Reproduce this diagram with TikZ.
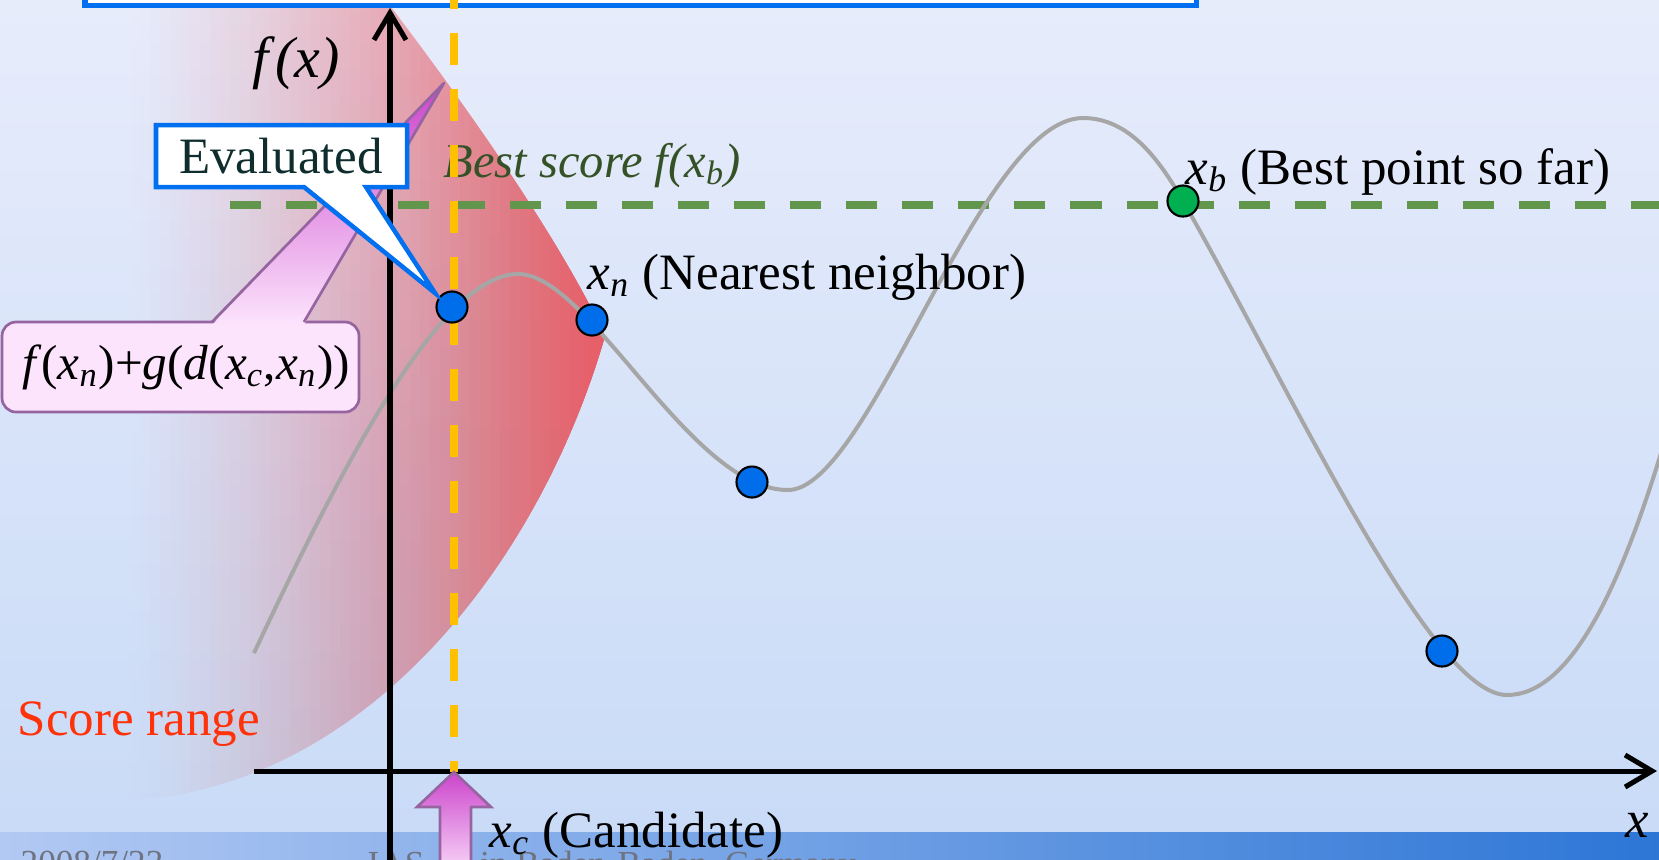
\documentclass[tikz,border=0pt]{standalone}
\usepackage{fontspec}
\setmainfont{Liberation Serif}
\usetikzlibrary{arrows.meta}

\definecolor{bgtop}{RGB}{231,236,251}
\definecolor{bgbottom}{RGB}{201,219,247}
\definecolor{footleft}{RGB}{178,201,243}
\definecolor{footright}{RGB}{45,118,214}
\definecolor{scorered}{RGB}{233,92,102}
\definecolor{boxblue}{RGB}{0,112,240}
\definecolor{dotblue}{RGB}{0,110,235}
\definecolor{dotgreen}{RGB}{0,176,80}
\definecolor{bestgreen}{RGB}{98,150,76}
\definecolor{besttext}{RGB}{52,82,38}
\definecolor{candyellow}{RGB}{255,192,0}
\definecolor{curvegray}{RGB}{166,166,166}
\definecolor{pinklight}{RGB}{252,228,252}
\definecolor{pinkdark}{RGB}{204,68,204}
\definecolor{pinkline}{RGB}{150,100,160}
\definecolor{rangered}{RGB}{255,50,10}
\definecolor{evaltext}{RGB}{15,45,45}
\definecolor{foottext}{RGB}{110,115,130}

\newcommand{\vx}[1]{\textit{x}\textsubscript{\textit{#1}}}

\tikzset{
  lbl/.style={font=\fontsize{14.5}{17}\selectfont, inner sep=0pt},
  sample/.style={circle, draw=black, line width=0.6pt, minimum size=0.31cm, inner sep=0pt},
  axisline/.style={line width=0.05cm, -{Straight Barb[length=0.27cm,width=0.32cm]}},
  footlbl/.style={anchor=north west, inner sep=0pt, text=foottext, font=\fontsize{10}{12}\selectfont},
}

\begin{document}
\begin{tikzpicture}[x=0.01cm,y=-0.01cm]
\useasboundingbox (0,0) rectangle (1659,859);
\clip (0,0) rectangle (1659,859);

% slide background
\shade[top color=bgtop, bottom color=bgbottom] (0,0) rectangle (1659,832);
\shade[left color=footleft, right color=footright] (0,832) rectangle (1659,859);
\node[footlbl] (date) at (20,850) {2008/7/23};
\node[footlbl] (venue) at (367,850) {IAS-10 in Baden-Baden, Germany};

% score range, fading to the left
\begin{scope}
\clip (100,-10) -- (378,-10)
  .. controls (470,110) and (560,240) .. (605,336)
  .. controls (540,560) and (380,760) .. (175,795)
  .. controls (150,799) and (125,800) .. (100,800) -- cycle;
\foreach \xa in {130,140,...,600} {
  \pgfmathsetmacro\acur{min(0.97,((\xa-120)/480)^1.5)}
  \pgfmathsetmacro\aprev{min(0.97,(max(\xa-130,0.01)/480)^1.5)}
  \pgfmathsetmacro\op{1-(1-\acur)/(1-\aprev)}
  \fill[scorered, opacity=\op] (\xa,-20) rectangle (640,820);
}
\end{scope}

\draw[boxblue, line width=0.05cm, fill=white] (85,-60) rectangle (1196,5.5);

% best score
\draw[bestgreen, line width=0.08cm, dash pattern=on 0.31cm off 0.25cm] (230,205) -- (1659,205);
\node[lbl, anchor=base west, text=besttext, font=\fontsize{13.8}{16}\selectfont\itshape] (bestscore) at (443,177) {Best score f(\vx{b})};

% function
\draw[curvegray, line width=0.04cm] (254,653) .. controls (340,470) and (440,274) .. (518,274)
  .. controls (590,274) and (690,490) .. (788,490)
  .. controls (870,490) and (980,118) .. (1083,118)
  .. controls (1130,118) and (1160,161) .. (1183,201)
  .. controls (1290,388) and (1430,695) .. (1507,695)
  .. controls (1570,695) and (1620,590) .. (1665,440);

% axes
\draw[axisline] (390,870) -- (390,8);
\draw[axisline] (254,771) -- (1657,771);
\node[font=\fontsize{16.5}{19}\selectfont\itshape] (fxlabel) at (296,63) {f\/(x)};
\node[lbl, anchor=base, font=\fontsize{15}{18}\selectfont\itshape] (xlabel) at (1637,837) {x};

% candidate
\draw[candyellow, line width=0.08cm, dash pattern=on 0.32cm off 0.24cm] (454,-23) -- (454,772);

\node[sample, fill=dotblue] (cand) at (452,307) {};
\node[sample, fill=dotblue] (near) at (592,320) {};
\node[sample, fill=dotblue] (lowa) at (752,482) {};
\node[sample, fill=dotblue] (lowb) at (1442,651) {};
\node[sample, fill=dotgreen] (best) at (1183,201) {};

\node[lbl, anchor=base west] (nearlbl) at (587,289) {\vx{n} (Nearest neighbor)};
\node[lbl, anchor=base west] (bestlbl) at (1185,184) {\vx{b} (Best point so far)};
\node[lbl, anchor=base west, text=rangered] (rangelbl) at (17,735) {Score range};

% callouts
\filldraw[fill=pinklight, draw=pinkline, line width=0.027cm, rounded corners=0.14cm]
  (2,322) rectangle (359,412);
\shade[top color=pinkdark, bottom color=pinklight] (212,325) -- (444,83) -- (304,325) -- cycle;
\draw[pinkline, line width=0.027cm, line join=round] (212,322) -- (444,83) -- (304,322);
\node[lbl, font=\fontsize{14}{17}\selectfont] (fsum) at (186,367) {\textit{f}(\vx{n})+\textit{g}(\textit{d}(\vx{c},\vx{n}))};

\filldraw[fill=white, draw=boxblue, line width=0.045cm] (156,125) -- (407,125) -- (407,187)
  -- (366,187) -- (435,293) -- (304,187) -- (156,187) -- cycle;
\node[lbl, text=evaltext] (evaluated) at (281,156) {Evaluated};

% candidate arrow
\shadedraw[top color=pinkdark, bottom color=pinklight, draw=pinkline, line width=0.027cm]
  (454,772) -- (491,807) -- (471,807) -- (471,880) -- (440,880) -- (440,807) -- (417,807) -- cycle;
\node[lbl, anchor=base west] (candlbl) at (489,847) {\vx{c} (Candidate)};
\end{tikzpicture}
\end{document}
